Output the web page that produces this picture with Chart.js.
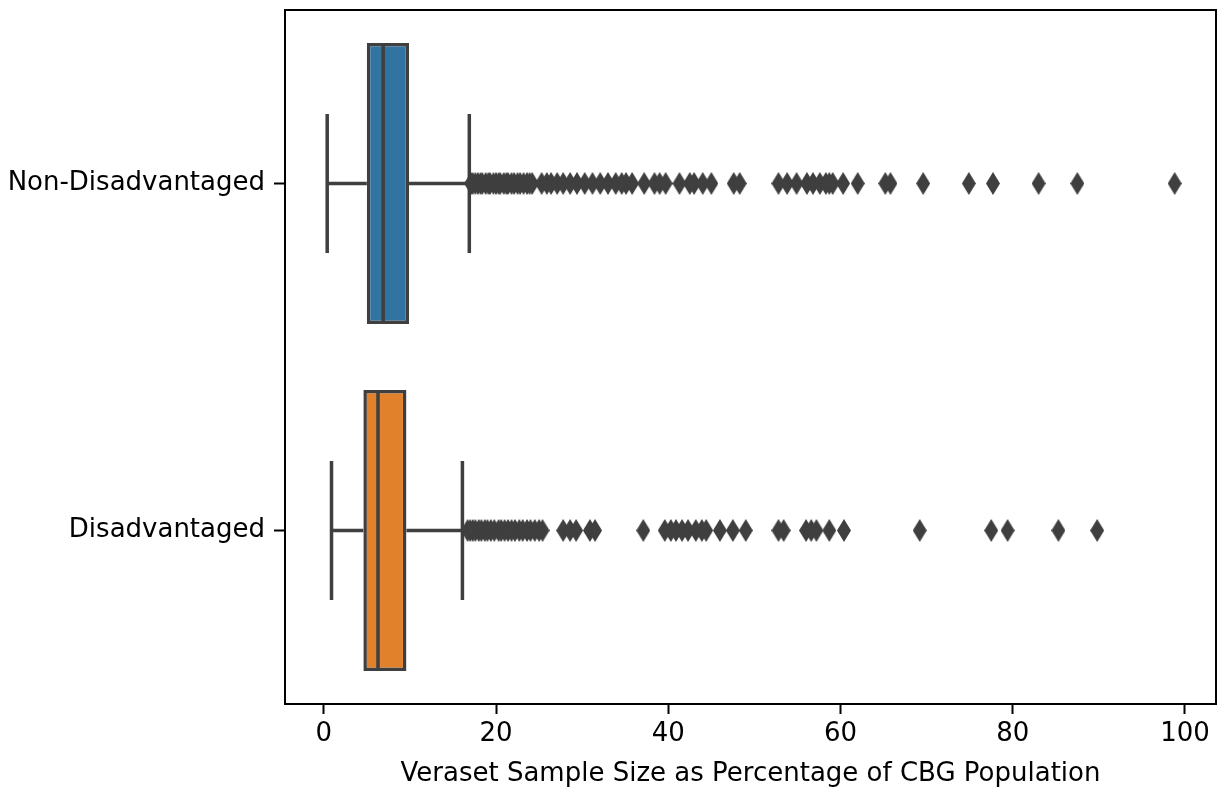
<!DOCTYPE html>
<html>
<head>
<meta charset="utf-8">
<script src="https://cdn.jsdelivr.net/npm/chart.js@4.4.1/dist/chart.umd.min.js"></script>
<style>
  html, body { margin: 0; padding: 0; background: #fff; }
  #wrap { width: 1225px; height: 790px; }
</style>
</head>
<body>
<div id="wrap"><canvas id="myChart"></canvas></div>
<script>
// groups, top to bottom
const groups = ["Non-Disadvantaged", "Disadvantaged"];
const boxColors = ["#3274a1", "#e1812c"];

// five-number summary (percent)
const whiskerLow = [0.4, 0.9];
const q1 = [5.0, 4.6];
const median = [6.9, 6.3];
const q3 = [9.9, 9.6];
const whiskerHigh = [16.9, 16.1];

// outliers (fliers)
const fliersNonDis = [
  17.1, 17.3, 17.6, 17.9, 18.2, 18.4, 18.8, 19.1, 19.3, 19.7, 20.0, 20.3, 20.5,
  20.9, 21.2, 21.4, 21.8, 22.1, 22.5, 22.8, 23.2, 23.6, 23.9, 24.2,
  25.3, 25.9, 26.4, 27.1, 27.8, 28.6, 29.4, 30.3, 31.2, 32.1, 33.0, 33.9, 34.6, 35.1, 35.8,
  37.2, 38.4, 39.0, 39.7, 41.3, 42.5, 43.0, 44.0, 45.0,
  47.6, 48.3,
  52.8, 53.8, 54.9, 56.1, 56.8, 57.6, 58.3, 58.7, 59.1, 60.3, 62.0,
  65.2, 65.8, 69.6, 74.9, 77.7, 83.0, 87.5, 98.8
];
const fliersDis = [
  16.7, 17.0, 17.3, 17.6, 18.0, 18.3, 18.7, 19.0, 19.4, 19.8, 20.3, 20.6, 21.0,
  21.4, 21.8, 22.2, 22.7, 23.1, 23.6, 24.0, 24.5, 25.0, 25.4,
  27.8, 28.6, 29.3, 30.9, 31.5,
  37.1, 39.6, 40.3, 40.9, 41.6, 42.3, 43.2, 43.9, 44.4, 46.0, 47.5, 49.0,
  52.8, 53.4, 56.0, 56.6, 57.2, 58.7, 60.4,
  69.2, 77.5, 79.4, 85.3, 89.8
];
const fliers = [fliersNonDis, fliersDis];

const xTicks = [0, 20, 40, 60, 80, 100];
const xTitle = "Veraset Sample Size as Percentage of CBG Population";

const lineColor = "#3f3f3f";
const fontFamily = "'DejaVu Sans', sans-serif";
const fontSize = 26;

// thin diamond marker like matplotlib 'd'
function makeDiamond(w, h, color) {
  const c = document.createElement("canvas");
  c.width = w;
  c.height = h;
  const g = c.getContext("2d");
  g.fillStyle = color;
  g.beginPath();
  g.moveTo(w / 2, 0);
  g.lineTo(w, h / 2);
  g.lineTo(w / 2, h);
  g.lineTo(0, h / 2);
  g.closePath();
  g.fill();
  return c;
}
const diamond = makeDiamond(14, 23, lineColor);

function segment(x0, y0, x1, y1) {
  return {
    type: "scatter",
    data: [{ x: x0, y: y0 }, { x: x1, y: y1 }],
    showLine: true,
    borderColor: lineColor,
    borderWidth: 3.5,
    pointRadius: 0,
    pointHoverRadius: 0,
    order: 1
  };
}

const datasets = [];

// boxes as floating bars
datasets.push({
  type: "bar",
  indexAxis: "y",
  data: groups.map((g, i) => ({ x: [q1[i], q3[i]], y: i })),
  backgroundColor: boxColors,
  borderColor: lineColor,
  borderWidth: 3.5,
  borderSkipped: false,
  categoryPercentage: 0.81,
  barPercentage: 1.0,
  order: 2
});

groups.forEach((g, i) => {
  datasets.push(segment(whiskerLow[i], i, q1[i], i));
  datasets.push(segment(q3[i], i, whiskerHigh[i], i));
  datasets.push(segment(whiskerLow[i], i - 0.2, whiskerLow[i], i + 0.2));
  datasets.push(segment(whiskerHigh[i], i - 0.2, whiskerHigh[i], i + 0.2));
  datasets.push(segment(median[i], i - 0.4, median[i], i + 0.4));
  datasets.push({
    type: "scatter",
    data: fliers[i].map(v => ({ x: v, y: i })),
    pointStyle: diamond,
    pointRadius: 7,
    order: 0
  });
});

// full box around the plot area
const frame = {
  id: "frame",
  afterDraw(chart) {
    const a = chart.chartArea;
    const ctx = chart.ctx;
    ctx.save();
    ctx.strokeStyle = "#000";
    ctx.lineWidth = 2;
    ctx.strokeRect(a.left, a.top, a.right - a.left, a.bottom - a.top);
    ctx.restore();
  }
};

const ctx = document.getElementById("myChart").getContext("2d");

new Chart(ctx, {
  data: { datasets: datasets },
  plugins: [frame],
  options: {
    responsive: true,
    maintainAspectRatio: false,
    animation: false,
    events: [],
    layout: { padding: { top: 10, right: 9, left: 0, bottom: 0 } },
    plugins: {
      legend: { display: false },
      tooltip: { enabled: false }
    },
    scales: {
      x: {
        type: "linear",
        position: "bottom",
        min: -4.5,
        max: 103.6,
        offset: false,
        afterBuildTicks: s => { s.ticks = xTicks.map(v => ({ value: v })); },
        afterFit: s => { s.height = 86; s.paddingLeft = 0; s.paddingRight = 0; },
        grid: {
          offset: false,
          drawOnChartArea: false,
          drawTicks: true,
          tickLength: 10,
          tickWidth: 2,
          tickColor: "#000"
        },
        border: { display: false },
        ticks: {
          color: "#000",
          padding: 5,
          maxRotation: 0,
          font: { family: fontFamily, size: fontSize }
        },
        title: {
          display: true,
          text: xTitle,
          color: "#000",
          padding: { top: 1, bottom: 0 },
          font: { family: fontFamily, size: fontSize }
        }
      },
      y: {
        type: "linear",
        reverse: true,
        min: -0.5,
        max: 1.5,
        offset: false,
        afterBuildTicks: s => { s.ticks = groups.map((g, i) => ({ value: i })); },
        afterFit: s => { s.width = 285; s.paddingTop = 0; s.paddingBottom = 0; },
        grid: {
          offset: false,
          drawOnChartArea: false,
          drawTicks: true,
          tickLength: 11,
          tickWidth: 2,
          tickColor: "#000"
        },
        border: { display: false },
        ticks: {
          color: "#000",
          padding: 9,
          font: { family: fontFamily, size: fontSize },
          callback: v => groups[v]
        }
      }
    }
  }
});
</script>
</body>
</html>
